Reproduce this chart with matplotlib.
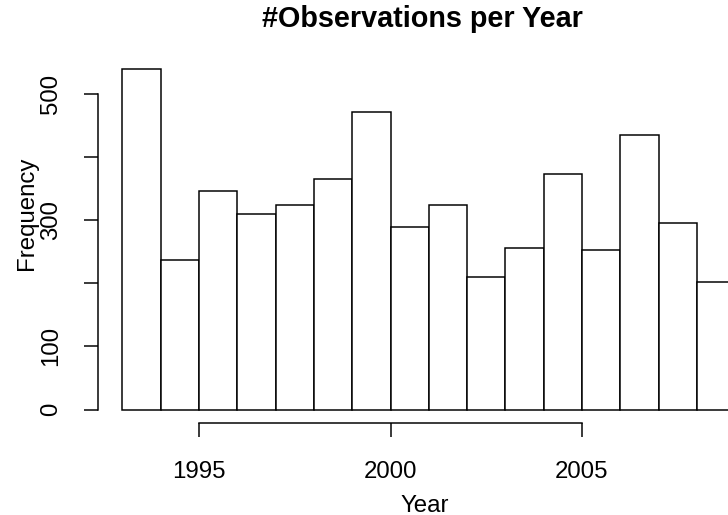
import numpy as np
import matplotlib
matplotlib.use("Agg")
import matplotlib.pyplot as plt

# histogram bins (left edge of each one-year bin) and counts
bin_left = [1993, 1994, 1995, 1996, 1997, 1998, 1999, 2000,
            2001, 2002, 2003, 2004, 2005, 2006, 2007, 2008]
counts = [538, 236, 345, 310, 323, 364, 470, 289,
          323, 209, 256, 372, 253, 435, 295, 201]

x_ticks = [1995, 2000, 2005]
y_ticks = [0, 100, 200, 300, 400, 500]
y_tick_labels = ["0", "100", "", "300", "", "500"]

plt.rcParams["font.family"] = ["Liberation Sans", "DejaVu Sans"]

dpi = 144
fig = plt.figure(figsize=(728 / dpi, 515 / dpi), dpi=dpi)
# plot region runs past the right edge, as in the reference
ax = fig.add_axes([97.9 / 728, (515 - 423.1) / 515, 661.8 / 728, 367.2 / 515])

ax.bar(bin_left, counts, width=1, align="edge", facecolor="white",
       edgecolor="black", linewidth=0.75)

ax.set_xlim(1992.36, 2009.64)
ax.set_ylim(-21.5, 559.5)

for side in ["top", "right"]:
    ax.spines[side].set_visible(False)
ax.spines["left"].set_bounds(0, 500)
ax.spines["bottom"].set_bounds(1995, 2005)
ax.spines["left"].set_linewidth(0.75)
ax.spines["bottom"].set_linewidth(0.75)

ax.set_xticks(x_ticks)
ax.set_xticklabels([str(t) for t in x_ticks])
ax.set_yticks(y_ticks)
ax.set_yticklabels(y_tick_labels, rotation=90, va="center")
ax.tick_params(axis="both", length=7.2, width=0.75, labelsize=12)
ax.tick_params(axis="x", pad=12)
ax.tick_params(axis="y", pad=10.5)

ax.set_title("#Observations per Year", fontsize=14.4, fontweight="bold", pad=14.3,
             x=(422 - 97.9) / 661.8)
ax.set_xlabel("Year", fontsize=12)
ax.set_ylabel("Frequency", fontsize=12)
ax.xaxis.set_label_coords((424.5 - 97.9) / 661.8, -(494.5 - 423.1) / 367.2)
ax.yaxis.set_label_coords(-(97.9 - 38) / 661.8, (423.1 - 213) / 367.2)

fig.savefig("out.png", dpi=dpi)
